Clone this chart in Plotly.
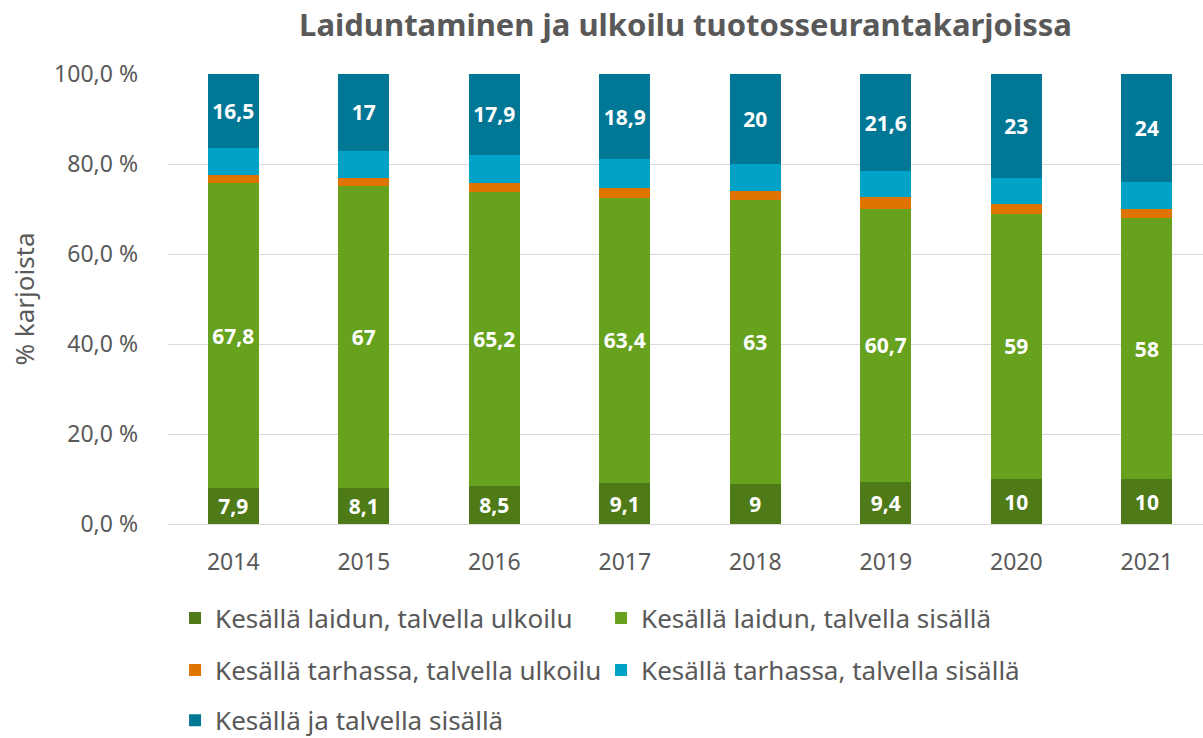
import plotly.graph_objects as go

years = ["2014", "2015", "2016", "2017", "2018", "2019", "2020", "2021"]
laidun_ulkoilu = [7.9, 8.1, 8.5, 9.1, 9.0, 9.4, 10.0, 10.0]
laidun_sisalla = [67.8, 67.0, 65.2, 63.4, 63.0, 60.7, 59.0, 58.0]
tarha_ulkoilu = [1.9, 1.8, 2.1, 2.1, 2.0, 2.5, 2.1, 2.0]
tarha_sisalla = [5.9, 6.1, 6.3, 6.5, 6.0, 5.8, 5.9, 6.0]
sisalla = [16.5, 17.0, 17.9, 18.9, 20.0, 21.6, 23.0, 24.0]

names = [
    "Kesällä laidun, talvella ulkoilu",
    "Kesällä laidun, talvella sisällä",
    "Kesällä tarhassa, talvella ulkoilu",
    "Kesällä tarhassa, talvella sisällä",
    "Kesällä ja talvella sisällä",
]
colors = ["#4e7a17", "#66a21e", "#e07400", "#00a2c8", "#007795"]
series = [laidun_ulkoilu, laidun_sisalla, tarha_ulkoilu, tarha_sisalla, sisalla]
labelled = [True, True, False, False, True]
legends = ["legend", "legend", "legend2", "legend2", "legend3"]

yticks = [0, 20, 40, 60, 80, 100]
yticktext = ["0,0 %", "20,0 %", "40,0 %", "60,0 %", "80,0 %", "100,0 %"]

FONT = "Noto Sans"
GREY = "#595959"


def fmt(v):
    s = f"{v:.1f}"
    if s.endswith(".0"):
        s = s[:-2]
    return s.replace(".", ",")


fig = go.Figure()
for name, col, vals, lab, lg in zip(names, colors, series, labelled, legends):
    fig.add_trace(go.Bar(
        x=years, y=vals, name=name, marker_color=col, marker_line_width=0,
        text=[fmt(v) for v in vals] if lab else None,
        textposition="inside" if lab else "none",
        insidetextanchor="middle",
        textfont=dict(family=FONT, size=21, color="white", weight="bold"),
        constraintext="none",
        legend=lg,
        hoverinfo="skip",
    ))

legend_common = dict(
    orientation="h", xanchor="left", yanchor="middle", yref="container",
    font=dict(family=FONT, size=26, color=GREY),
    entrywidth=381, entrywidthmode="pixels", itemwidth=30,
    bgcolor="rgba(0,0,0,0)", traceorder="normal",
)

fig.update_layout(
    width=1203, height=738,
    barmode="stack", bargap=0.61,
    plot_bgcolor="white", paper_bgcolor="white",
    margin=dict(l=168, r=0, t=74, b=214),
    title=dict(text="<b>Laiduntaminen ja ulkoilu tuotosseurantakarjoissa</b>",
               x=0.5, xref="paper", xanchor="center", y=0.966, yanchor="middle",
               font=dict(family=FONT, size=31, color=GREY)),
    xaxis=dict(type="category", range=[-0.5, 7.43], showgrid=False,
               tickfont=dict(family=FONT, size=23, color=GREY), ticks="",
               ticklabelstandoff=22,
               showline=False, fixedrange=True),
    yaxis=dict(range=[0, 100], tickvals=yticks, ticktext=yticktext,
               showgrid=True, gridcolor="#d9d9d9", gridwidth=1.3,
               zeroline=True, zerolinecolor="#d9d9d9", zerolinewidth=1.3,
               tickfont=dict(family=FONT, size=23, color=GREY),
               ticklabelstandoff=29, fixedrange=True,
               title=dict(text="% karjoista", font=dict(family=FONT, size=26, color=GREY), standoff=12)),
    legend=dict(x=0.0068, y=0.1626, **legend_common),
    legend2=dict(x=0.0068, y=0.0921, **legend_common),
    legend3=dict(x=0.0068, y=0.0240, **legend_common),
    showlegend=True,
)

fig.write_html("out.html", config={"displayModeBar": False},
               post_script="document.body.style.margin='0px';")
